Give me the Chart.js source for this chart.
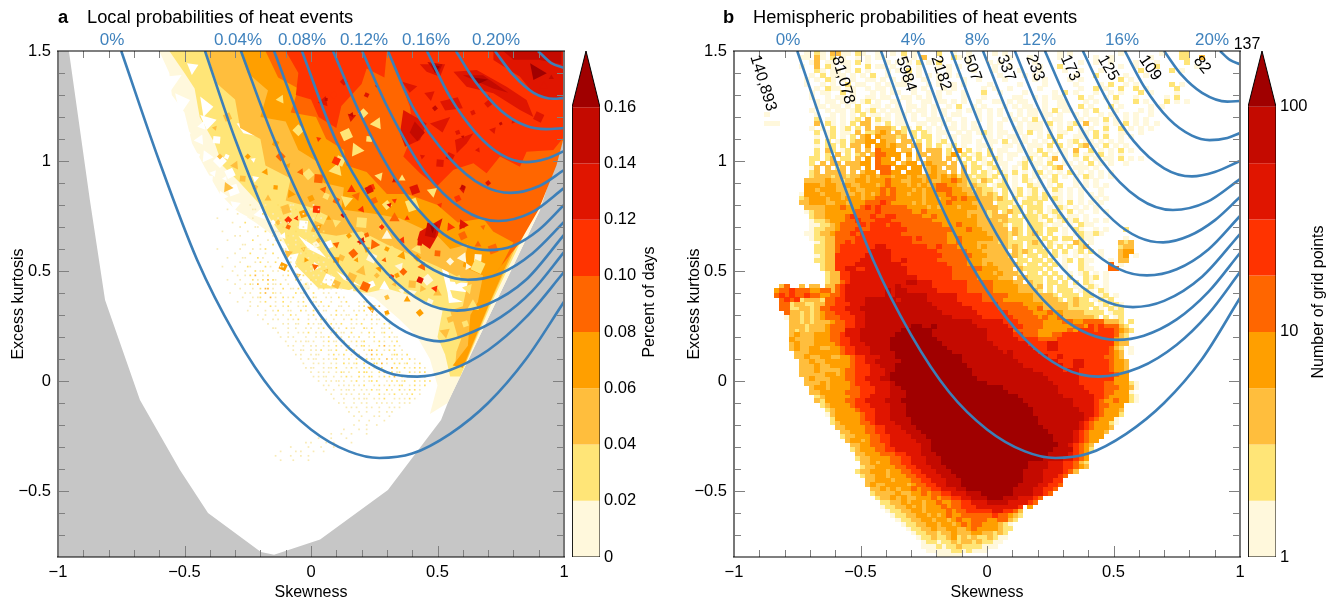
<!DOCTYPE html>
<html>
<head>
<meta charset="utf-8">
<script src="https://cdn.jsdelivr.net/npm/chart.js@4/dist/chart.umd.min.js"></script>
<style>
html, body { margin: 0; background: #fff; }
canvas { position: absolute; top: 0; }
</style>
</head>
<body>
<canvas id="panelA" width="590" height="602" style="left:0"></canvas>
<canvas id="barA" width="100" height="602" style="left:566px"></canvas>
<canvas id="panelB" width="590" height="602" style="left:676px"></canvas>
<canvas id="barB" width="84" height="602" style="left:1242px"></canvas>
<script>
// colours of the 9 classes, palest first
const levelColors = ['#fff', '#fff8dc', '#ffe577', '#ffbe3d', '#ff9f00', '#ff6600', '#ff3300', '#e01500', '#c40a00', '#a00000'];
const speckleColors = ['#f8eab4', '#ffe06a', '#ffb93a'];

// blue curves, panel a: [skewness, kurtosis]
const curvesA = [
  [[-.75,1.5],[-.6,1],[-.45,.55],[-.3,.21],[-.15,-.05],[0,-.22],[.15,-.32],[.27,-.35],[.4,-.33],[.55,-.24],[.7,-.1],[.85,.1],[1,.36]],
  [[-.419,1.5],[-.3,1.1],[-.15,.68],[0,.36],[.15,.15],[.3,.04],[.42,.02],[.55,.05],[.7,.14],[.85,.29],[1,.495]],
  [[-.277,1.5],[-.15,1.11],[0,.73],[.15,.46],[.3,.28],[.4,.21],[.51,.18],[.6,.205],[.75,.29],[.875,.41],[1,.586]],
  [[-.146,1.5],[0,1.06],[.15,.72],[.3,.49],[.45,.355],[.577,.32],[.7,.35],[.85,.46],[1,.664]],
  [[-.036,1.5],[.1,1.09],[.25,.79],[.4,.575],[.52,.485],[.62,.46],[.75,.49],[.875,.58],[1,.723]],
  [[.087,1.5],[.2,1.2],[.35,.89],[.5,.69],[.6,.62],[.7,.595],[.8,.615],[.9,.686],[1,.8]],
  [[.202,1.5],[.3,1.25],[.45,.95],[.6,.78],[.74,.727],[.87,.765],[1,.877]],
  [[.304,1.5],[.4,1.25],[.55,1.01],[.68,.888],[.79,.855],[.9,.885],[1,.959]],
  [[.458,1.5],[.55,1.29],[.65,1.13],[.75,1.03],[.85,.995],[.93,1.01],[1,1.045]],
  [[.573,1.5],[.65,1.36],[.75,1.23],[.85,1.16],[.93,1.145],[1,1.15]],
  [[.727,1.5],[.8,1.39],[.88,1.31],[.96,1.283],[1,1.287]],
  [[.897,1.5],[.95,1.445],[1,1.423]]
];
// blue curves, panel b
const curvesB = [
  [[-.75,1.5],[-.6,1],[-.45,.55],[-.3,.21],[-.15,-.05],[0,-.22],[.15,-.32],[.27,-.35],[.4,-.33],[.55,-.24],[.7,-.1],[.85,.1],[1,.377]],
  [[-.419,1.5],[-.3,1.12],[-.15,.72],[0,.41],[.15,.19],[.3,.06],[.44,.02],[.6,.06],[.75,.165],[.875,.305],[1,.495]],
  [[-.273,1.5],[-.15,1.12],[0,.747],[.15,.468],[.3,.284],[.4,.215],[.514,.187],[.62,.206],[.75,.28],[.875,.405],[1,.582]],
  [[-.142,1.5],[0,1.085],[.15,.746],[.3,.509],[.45,.372],[.577,.336],[.7,.364],[.85,.474],[1,.668]],
  [[-.016,1.5],[.1,1.17],[.25,.835],[.4,.61],[.52,.51],[.632,.48],[.75,.508],[.875,.598],[1,.75]],
  [[.11,1.5],[.2,1.25],[.35,.93],[.5,.73],[.6,.653],[.696,.63],[.8,.66],[.9,.73],[1,.836]],
  [[.229,1.5],[.33,1.24],[.45,1.006],[.6,.83],[.735,.777],[.87,.814],[1,.918]],
  [[.379,1.5],[.47,1.285],[.58,1.09],[.7,.967],[.81,.93],[.9,.95],[1,1]],
  [[.545,1.5],[.62,1.34],[.72,1.19],[.81,1.115],[.88,1.095],[.95,1.105],[1,1.127]],
  [[.7,1.5],[.77,1.39],[.85,1.31],[.95,1.27],[1,1.273]],
  [[.921,1.5],[.96,1.46],[1,1.44]]
];

// panel a: area no data reaches
const greyRegion = [[-1,1.5],[-.957,1.5],[-.874,.823],[-.814,.368],[-.676,-.086],[-.518,-.405],[-.407,-.6],[-.198,-.777],[-.146,-.79],[.036,-.72],[.304,-.495],[.514,-.177],[.545,-.086],[.735,.368],[.905,.777],[.917,.836],[1,1.11],[1,-.8],[-1,-.8]];

// panel a: filled contours per class
const contour1 = [[-.6,1.5],[-.56,1.4],[-.55,1.3],[-.5,1.22],[-.47,1.08],[-.42,.97],[-.36,.85],[-.3,.78],[-.22,.72],[-.1,.62],[0,.55],[.1,.43],[.25,.38],[.35,.28],[.42,.2],[.47,.1],[.5,-.02],[.47,-.15],[.54,-.1],[.735,.368],[.905,.777],[1,1.11],[1,1.5]];
const contour2 = [[-.56,1.5],[-.5,1.4],[-.46,1.33],[-.44,1.2],[-.38,1.08],[-.35,.98],[-.28,.9],[-.2,.8],[-.12,.67],[-.056,.52],[.03,.42],[.115,.42],[.22,.4],[.3,.42],[.42,.38],[.52,.32],[.5,.2],[.53,.12],[.55,.02],[.59,.02],[.72,.37],[.89,.78],[.99,1.11],[1,1.5]];
const contour3 = [[-.415,1.5],[-.37,1.35],[-.3,1.28],[-.28,1.15],[-.2,1.1],[-.18,.98],[-.08,.92],[-.1,.82],[.03,.78],[0,.68],[.1,.66],[.2,.68],[.3,.62],[.42,.56],[.5,.52],[.62,.45],[.6,.34],[.55,.32],[.58,.2],[.57,.07],[.61,.08],[.71,.36],[.875,.77],[.985,1.11],[1,1.5]];
const contour4 = [[-.28,1.5],[-.25,1.4],[-.17,1.32],[-.2,1.2],[-.1,1.18],[-.05,1.05],[.02,1],[.05,.9],[.13,.88],[.12,.78],[.25,.76],[.35,.74],[.5,.66],[.55,.6],[.62,.62],[.6,.52],[.68,.48],[.66,.36],[.63,.3],[.62,.16],[.56,.07],[.6,.06],[.7,.34],[.86,.76],[.975,1.11],[1,1.5]];
const contour5 = [[-.18,1.5],[-.13,1.38],[-.05,1.33],[-.08,1.22],[.02,1.2],[.06,1.1],[.13,1.05],[.14,.98],[.22,.95],[.3,.85],[.38,.85],[.5,.8],[.58,.72],[.68,.74],[.72,.68],[.8,.63],[.75,.52],[.7,.45],[.82,.62],[.9,.78],[.97,.98],[1,1.11],[1,1.5]];
const contour6 = [
  [.306,1.5],[1,1.5],[1,1.11],[.958,1.05],[.852,1.042],[.826,.974],[.747,1.02],[.694,.944],[.642,.99],[.563,.96],[.497,.884],[.431,.944],[.365,1.02],[.404,1.126],[.391,1.247],[.352,1.368],null,
  [-.1,1.5],[.3,1.5],[.29,1.38],[.22,1.42],[.2,1.35],[.16,1.3],[.12,1.25],[.1,1.15],[.03,1.2],[0,1.28],[-.06,1.3],[-.05,1.4]
];
const contour7 = [
  [.721,1.5],[1,1.5],[1,1.293],[.945,1.277],[.879,1.308],[.826,1.383],[.721,1.459],null,
  [.563,1.406],[.655,1.414],[.773,1.338],[.852,1.277],[.879,1.2],[.826,1.232],[.721,1.308],[.615,1.338],null,
  [.43,1.44],[.53,1.44],[.51,1.383],[.457,1.406],null,
  [.365,1.232],[.457,1.171],[.431,1.096],[.372,1.065],[.352,1.126],null,
  [.569,1.096],[.642,1.126],[.615,1.08],[.576,1.035],null,
  [.51,1.27],[.58,1.29],[.6,1.24],[.53,1.23],null,
  [.47,1.17],[.55,1.2],[.52,1.13],null,
  [.36,1.36],[.42,1.34],[.39,1.31],null,
  [.43,.68],[.52,.74],[.5,.66],[.47,.6],[.42,.64]
];
const contour8 = [
  [.46,1.45],[.52,1.44],[.5,1.39],null,
  [.6,1.39],[.68,1.39],[.78,1.31],[.72,1.33],null,
  [.41,1.18],[.45,1.13],[.42,1.09],[.39,1.13],null,
  [.76,1.5],[.99,1.5],[.99,1.44],[.9,1.46],[.8,1.46],null,
  [.46,.72],[.5,.71],[.49,.65],[.45,.66]
];
const contour9 = [
  [.866,1.444],[.932,1.399],[.879,1.368],null,
  [.475,1.44],[.51,1.43],[.49,1.4],null,
  [.47,.71],[.49,.7],[.48,.67],null,
  [.64,1.38],[.7,1.37],[.66,1.35]
];

// panel a: white gaps and small facets, centre of each facet
const gapPolys = [
  [-.49,1.444],[-.445,1.437],[-.471,1.391],null,
  [-.583,1.383],[-.511,1.391],[-.57,1.293],[-.61,1.323],null,
  [-.537,1.308],[-.478,1.277],[-.518,1.209],null,
  [-.438,1.293],[-.386,1.247],[-.425,1.2],null,
  [-.438,1.209],[-.373,1.187],[-.412,1.141],null,
  [-.294,1.171],[-.221,1.179],[-.208,1.111],[-.267,1.126],null,
  [.517,.512],[.543,.497],[.55,.452],[.622,.444],[.622,.402],[.55,.414],[.56,.38],[.6,.36],[.545,.355],[.54,.4],null,
  [-.05,.66],[.03,.6],[.06,.56],[-.01,.6],null,
  [.1,.5],[.2,.43],[.13,.46]
];
const gapSpots = [[-.491,1.126],[-.44,1.096],[-.373,1.096],[-.412,1.02],[-.333,1.02],[-.386,.944],[-.32,.944],[-.412,.884],[-.307,.868],[-.228,1.005],[-.38,.8],[-.3,.8],[-.27,.74],[-.2,.76],[-.15,.72],[-.11,.66],[-.03,.71],[.02,.52],[.07,.46],[.16,.41],[.24,.44],[.29,.43],[.07,.62],[-.07,.56],[-.1,1],[-.22,.92],[-.46,1.02],[-.43,1.16],[-.36,1],[-.34,.92],[-.4,.92],[-.35,.84]];
const spotsPale = [[.55,.543],[.6,.56],[.66,.56],[.62,.52],[.24,.56],[.35,.52],[.02,.62],[.3,.66],[-.02,.43],[.36,.41],[.46,.46],[.4,.4],[.47,.36],[.4,.35]];
const spotsYellow = [[.207,1.217],[.26,1.17],[.23,1.1],[.18,1.05],[.115,1],[.27,.93],[.14,1.12],[.36,.92],[.4,.8],[.48,.86],[.3,.8],[.14,.82],[.06,.84],[.1,.96],[-.05,1.14],[-.12,1.28],[.2,.72],[.28,.7],[.66,.52],[.62,.42],[.58,.46],[.64,.34],[.61,.26],[.57,.17],[-.01,.94],[.1,.72],[.04,.74],[.16,.66],[.32,.58],[.42,.6]];
const spotsL3 = [[-.36,1.02],[-.3,.98],[-.27,.92],[-.33,.88],[-.22,.88],[-.38,1.15],[-.33,1.2],[-.17,.83],[-.1,.78],[-.03,.6],[.03,.64],[-.09,.58],[.12,.56],[.2,.5],[.26,.48],[.33,.44],[.4,.44],[.44,.42],[.16,.47],[.06,.5],[.3,.38],[.5,.4],[.55,.28],[.53,.22],[-.13,.72],[-.05,.48],[.1,.44]];
const spotsL4 = [[-.25,1.02],[-.18,.95],[-.14,.88],[-.08,.85],[-.14,1.08],[-.09,.98],[0,.83],[.07,.74],[-.03,.76],[.03,.7],[.15,.66],[.22,.6],[.3,.6],[.36,.57],[.42,.56],[.18,.55],[.1,.55],[-.02,.55],[-.11,.52],[.27,.51],[.34,.48],[.38,.37],[.3,.31],[.24,.33],[.43,.31]];
const spotsL5 = [[-.12,1.02],[-.04,.95],[.03,.92],[.02,.78],[.1,.82],[.18,.84],[.25,.82],[.33,.74],[.22,.664],[.1,.62],[.167,.58],[.016,.52],[.214,.429],[.29,.55],[.365,.497],[.44,.52],[.5,.58],[.25,.62],[-.09,.7],[.05,.87],[.6,.66],[.66,.62],[.72,.6],[.68,.7],[.6,.77]];
const spotsL6 = [[-.09,.732],[-.057,.74],[.022,.78],[.2,.634],[.319,.474],[.49,.42],[.431,.459],[.16,.87],[.24,.88],[.33,.82],[.09,1.3],[.03,1.1],[.1,1],[.2,.78],[.28,.7],[.36,.64],[.43,.626],[.55,.7],[.6,.71],[.51,.8],[.58,.83],[.38,.74]];
const spotsL7 = [[.128,.755],[.2,.634],[.43,.626],[.6,.71],[.431,.459],[.31,.8],[.23,.87],[.33,.91],[.41,.87],[.6,.87],[.7,.9],[.16,1.2],[.22,1.3],[.05,1.27],[.13,1.36],[.66,1.05],[.51,.99],[.8,1.18],[.9,1.2],[.72,1.14],[.64,1.22],[.92,1.34],[.58,1.13],[.47,1.3],[.7,1.26],[.44,1.02],[.55,1.02]];
const spotsL8 = [[.128,.755],[.16,1.21],[.06,1.28],[.33,.915],[.6,.88],[.26,1.34],[.75,1.17],[.95,1.38],[.7,1.29],[.6,1.11],[.49,1.24]];

// panel a: fine speckle, one row per 0.02 of kurtosis from 0.8 down, one digit per 0.01 of skewness from -0.42
const speckleRows = [
  '..................1.....1....2....11.......1.',
  '.........1.........11.........2...1.2.....1..1',
  '.............1.........2...1......1....1.2',
  '.....1.............1.........12......2.....1..1',
  '...........1....2.........1...1..1......1..2.',
  '..............1.....11.........2.....1.1.....1',
  '.......1.........1......2...11......2...1...1..2',
  '............1.1......1.....1.....2.1.......1.2',
  '.........1.........2.....1..1.2.....1...1.....1.2',
  '...............11.....1....2.....1..1.2.....1',
  '.....1........1....1..1.2......11......2.1...1..1',
  '............1.....2.....1..2...1......1.2..1.....1',
  '.........1.....11....2.1.....1..2.1......1...2...1',
  '..............1.....1.2..1..2.....1.1..2.....1.1',
  '.......1....1....21.....2.1...11....2.....1..2..1',
  '...........1....1...2.12...1.1...2.1....1.1...1.2',
  '.............1..1.2.3..1.2.....1.2...1.2...1.1....1',
  '.........1....1....2.1.2.3.21...1...2.1...2.1...1.1',
  '............1...1.21.3...2.11.2..1......2.1...1.2..1',
  '..............1....1..2.33.1...2..11.2...1...1.2..1...1',
  '..........1.....1.1...2.3..21.1.....2.11...2...1.1..1',
  '...............1...1.12...3.1..2.1.2...1...21...1.1..2.1',
  '.............1....1...1.2...1..2..1..1.2...11.2...1...1.2....1.12',
  '..................1..1....2.1..1.2...1.12....1.1.2...11..1...1.2.1.1.3',
  '.................1......1..1.2...11...2.1..2.1.11...2..1...1.1.2..1.2',
  '.....................1..1...1..1..2.1....1.2..1...1.2.1.11..2...1.1.1.1.2',
  '.......................1...1.1...1.1.2...1..1.2.1..1...1..2.1..1..2.11..2',
  '.........................1.....1.1..11...2.1.11...2.1.2...1.1.2...1.1..2.1',
  '...........................11....1..1...1.1..1.2...1.1..2.11...21.2...11.2',
  '.............................1...1...1.1.2..1.1...1.2.11..2...1..2.1..12..1.',
  '..............................1..1.1....1...1.11.2..1.1..2.1.2...1.2...1.2.11',
  '................................1...1.1.11.1...1.2.11..2..1.2.12...1.2.1..1.2',
  '.................................1.1...1..1.1..1.1..2.1.12..1.22.1...2.3.1.2.1',
  '...................................1..11..1.1.2..11.2...2.12...1.23.2..1.2.2..1',
  '....................................1.1...1.11...1.2.1.2..1.22..1.3.2.2...122.1.2',
  '......................................1..1.11..1.1.12..1.2..2.1.2.21.2..3.2.1.2..2.1',
  '.......................................1...1.1.1..1.1..2.1.12..2.1.22.3.1..2.2.12..1.2',
  '........................................1.11...1.11.2...1.2.1..2.2.12.2...3.2..2.1.2.2.1',
  '..........................................1..1.1.1..1.21.1...2.22.1..2.32.2.12...2.1.2.2',
  '...........................................1.1.11..1..1.2.1..2.1.22..1.2.2.3..2.1.22.1.2',
  '.............................................1..1.1.11.1..1.2..1.12.2...1.2.2.12...2.1.2.2',
  '...............................................1.1...1.1.1.1.1.2...1.2.1.2.1.22..1.2.1.2',
  '................................................1..1..1.11.1..1.1.2.11..2.1..2.1.2.2.1.',
  '..................................................1...1.1.1..1.1.1...2.1.1.2..1.1.2..1.',
  '...................................................1...1...1.1.11..1.1.2...1.1.1.2.1',
  '.....................................................1.1...1..1.1...1.1.1.1..1.1.1',
  '........................................................1.1.1...1.1..1...1.1.1.',
  '.........................................................1...1..1....1..1.1..',
  '...........................................................1..1....1.1...1.',
  '.............................................................1...1.....1.',
  '...........................................................1....1...1...',
  '.......................................................1.....1..1...',
  '..................................................1...1...1.....1.',
  '.............................................1....1.....1....',
  '........................................1.1.....1..1......1',
  '..................................1......1....1....1.1.',
  '..............................1.....1.1....1...1.',
  '............................1.....1...1..1..',
  '..............................1....1.....1.'
];

// panel b: one string per row of grid cells, 1.49 at the top in steps of 0.02,
// each digit a cell from skewness -0.99 in steps of 0.02, '.' means empty, spaces only for counting
const heatRows = [
  '.......... ....1.21.3 311.21..1. .1.2.1.... 2..1..1... .1.1...... ....1.1... ......1... ....1...22 .........',
  '.......... ...11.31.2 .1..1.1.11 ...1.1.3.. ...21.1... ....1...1. ....1..... .1..1..... ..1.....22 ..3.......',
  '.......... .....13.11 .11.2.1... 1.1.1.2.1. 2.....1... 1.1......1 ........1. .1..1....1 ...1.....2 .....',
  '.......... ...1..3.21 ..1...2.11 .1....1... 1.1.1..... .1..1..... 1...2..... ......1..1 ...2...... .1.',
  '.......... ......21.1 1.1.2.1... 1.1.2.1... ..1....1.. .1....1... 1....1..1. ..1....... 2.....2.1.',
  '.......... .....1.2.1 11.1.1.2.. 1...1.1.1. 1.1.1..... ..1....1.1 .......1.. .2.....1.. .1........',
  '.......... ....1.1.21 .1.1..11.1 .1.11..1.. 1....1..1. ...1.....1 .1....1.1. ......2.1. ..........',
  '.......... ....1..1.1 ..2.11..1. 1.11....1. 1..1.1.... 1.....1... .1.....1.. ..1.2..1.1 ......2.1.',
  '.......... ......1.21 1.11..1.11 .1...1.1.. .1.1.....1 .1..1..... 1.......1. .2.1..2..2 .1.....2..',
  '.......... .....1.11. .2.1...1.1 .11..1..1. 1.1..1...2 ..1....1.. ...1.2.1.. .1..1.1... 2.1....1..',
  '.......... .....1..1. 11.1..11.1 1..11.1.1. 1....1...1 .....11..1 .1.11...2. 1..1.2...1 .....1.2..',
  '.......... ......1.11 .1.1.12.1. .11.1..11. 11.1.1..1. .11.1.11.. .1..11...1 .1...1...2 .1...2.1.1',
  '.......... ......11.1 1.1.2..11. 1.1.11.1.1 ..1.2..1.1 ...1.1.11. .1..11..2. 1...2.1... ..1.1.....',
  '.......... .....1..1. 11.12.12.1 .11.1.11.1 .1..1.1.1. 1.1...1.11 .1.2.11..1 .2...1.... 1.1.......',
  '......1... ......1..1 .1.1.2.11. 1.11.1.1.1 .1.11...1. 1.1.1.1.11 .11.1..1.1 ..1.1..1.1 ..1.......',
  '.......... ......2.11 .1.12.3.21 1.11.1..11 1.1..1..1. 1..1.1.1.2 .1.11...1. 11.2.1.1.1 .1........',
  '......111. ......3.21 .1.2.33.1. 2.11..11.1 .1.1.1.1.. 1.1...1.11 1.2.1.12.3 .1.1.1.2.1 .1.1......',
  '.......... .....1.1.2 .12.2.3.33 32.21.2.1. 1.11.1.11. 1.1..11.11 1.1.1.2.1. 1..2..2.1. 1.1.......',
  '.......... ......2.12 .11.3.2234 3.32.2.21. 11..1.1.12 1.11..1.2. 1.1.11..11 .2.1..11.. 1.........',
  '.......... ......1.12 .1.2.34.43 3323.2.22. 1.11.11..1 1.1.11.1.. 1.2.2..111 .2.2..1.1. ..........',
  '.......... ......2.2. 12.23344.4 33.33.2.2. 12.1.11.1. 11.2.1.1.1 .1.2..12.1 1.1.1.1... ..........',
  '.......... ......1.22 .2.33.4.44 3433.33.2. 2.12.1..11 1..11.1.11 1.2.2.1.23 .1.2.1.1.. ..........',
  '.......... ......2.32 .12.3.3.54 44.33.3.33 3.2.4.2.1. 2.11..1.1. 2.1.11.3.. 2.1.1.2.1. ..........',
  '.......... ......2.2. 3.2.23.355 444.4.33.3 3.24.2.12. 2.1.11..11 .2.1.1.2.1 1.2.1.1... ..........',
  '.......... .....22.23 .22.3.4.54 4.4.3.3.33 3.3.2.2.21 .21.1..12. 1.13.1.1.2 .1.11.2.1. 1.........',
  '.......... .....2.3.3 3.33344.54 44.344.343 33.3.2.2.1 2.11..12.1 1.2..11.1. 2.1.1..1.. ..........',
  '.......... .....13.3. 23.33.4.55 5.44.44.34 3.33.3.22. 12.1.1.2.1 .1.23..111 .1........ ..........',
  '.......... .....23.33 33.3.344.5 544.444.34 33.3.3.2.2 1.21.2.1.1 2.1.1.2.1. 1.1.1..... ..........',
  '.......... .....23332 3323343434 4344343344 3434232122 12.2.1.2.1 .1.2.1.1.2 1.1.1.....',
  '.......... ....333343 3233443444 5443344343 3445432213 2.12.1.21. 1.12...1.1 .1.......',
  '.......... ....444344 3343344434 5444343434 5544332322 .122.1..21 1.1.2..1.1 .1.1......',
  '.......... ....443444 3334334445 4544434344 5554433232 21.2.12.12 .1.21.1.1. ..1.......',
  '.......... ...1444344 4333434345 4544344344 4454443332 32.2.12.12 .2.11.1.1. 1.1.......',
  '.......... ...2344434 4344434455 5544444344 3445454433 3232.2.122 12.21.1.1. .1.1......',
  '.......... ...3344433 4434445556 5444434344 4454444333 3.2221.221 2..11.2.1. 1.1.......',
  '.......... ....333344 4544456565 5555444434 3444344433 3322.22.22 2.1.21.1.1 .1........',
  '.......... ....123344 4444555565 5555544544 4444443333 23.2322.21 2.121.2.1. .1.1......',
  '.......... .....23344 4456555655 6655555445 4444443433 2333.2.222 12.12.11.1 ..........',
  '.......... .....12234 4455655566 6555555554 4444444433 3323222.22 1.2.1212.1 .1.1......',
  '.......... .....11223 4555565666 5665555555 5444544433 3332.22.22 21.11.1.21 1.........',
  '.......... .....12233 4555655666 6666555555 5554445443 3333.32.22 2.22.1.21. .1.1...2..',
  '.......... ....112334 5556566666 6665555555 5544444444 3333232.23 2.2..1.121 121.......',
  '.......... .....12233 5555666666 6666656555 5544544444 43332.2222 .2.2.22.21 1......1..',
  '.......... ......1233 5565666666 6666655555 5544544433 3323222.23 2.21.1.32. 1.....323.',
  '.......... ......2233 5666666677 6666666655 6555444434 3333232.22 2.2.2.2.23 ......233.',
  '.......... ......2233 5666666777 7666666666 5555554443 3333.3232. 22.2.2.12. 2.1...344.',
  '.......... ......1233 6666667777 7666666666 6555555444 3333232.22 .2.2.1.1.1 ..1...34.1',
  '.......... ......2233 6666677777 7667666666 5555554443 33333.22.2 2.2..12.21 1...1.33..',
  '.......... .......233 6666777777 7776666666 6655554443 4333332.22 .2.2.1..21 ....5.1...',
  '.......... .......233 6677667777 7777666666 6665555554 44333.3222 2.2..1..21 1...55....',
  '.......... ........23 3667777777 7777666666 6665555544 4343332.22 .2.2..1.12 .1.1......',
  '.......... ........23 3667777777 7777776666 6665555544 44333.3322 2.2.2.2..2 12.1......',
  '.......... ........23 3567777777 7777887776 6666665555 5444433.32 2.22.2.2.2 1..1......',
  '.........3 5..3.33.33 5677777777 7787777776 6666665555 5444443332 3.2.22.1.1 21.1......',
  '........45 5655544553 5677777777 8788777777 6666665555 5444443333 2.2.222.12 1.21......',
  '........56 5655655445 5677777777 8788888877 7777666665 5555444443 3332.222.2 2.12.1....',
  '.........5 6562333255 6677778888 8878888877 7777666665 5554444443 33332.2322 .1212.....',
  '.........5 5233223355 6667778888 8888888887 7777766666 6655555444 4333332322 2.12.21...',
  '.........5 5223323556 6677788888 8888888888 7777777666 6655555544 5333332222 .21.212...',
  '.......... 5332323455 6667778888 8888888888 8777777766 6666555554 4454433332 222.122...',
  '.......... 1332323455 5666778888 8888888888 8887777776 6666655555 4544533333 32.2.12...',
  '.......... .332323334 5566778888 8888888888 8888888777 7776665555 5444455445 5553332.2.',
  '.......... .333233345 5566778888 8888899889 8888888877 7777666555 5444444554 65655532..',
  '.......... .323233345 5577788888 8889999998 8888888888 7777755555 4444445466 656665432.',
  '.......... .343334445 5677788888 8899999998 8888888888 7777766555 4445566666 66666532.',
  '.......... .433334445 5667788888 8999999999 8888888888 7777776666 5555666666 66666432..',
  '.......... .343334444 5667778888 8999999999 9888888888 8777777766 6677666666 66666433.',
  '.......... .343344334 4566777888 8999999999 9988888888 8877777776 6677666666 6666532.1',
  '.......... ..33344444 4566777888 8899999999 9998888888 8887877777 6666666666 6666543.1',
  '.......... ..33433443 3445667778 8899999999 9999988888 8888877777 7766766666 6665543.',
  '.......... ...3343344 4445667788 8889999999 9999988888 8888887777 7777666776 66665443.',
  '.......... ...3334334 4445666778 8899999999 9999998888 8888888777 7777766776 66665443.',
  '.......... ...3334333 3455666777 8899999999 9999999888 8888888887 7777767766 66665443',
  '.......... ...3333344 3455666777 8999999999 9999999888 8888888888 8777777766 66666544.',
  '.......... ....343334 4455667778 8999999999 9999999988 8888888888 8877777766 66666444.',
  '.......... ....333434 4445666777 7899999999 9999999999 8888888888 8887777766 66655444 21',
  '.......... .....34434 4445566677 7889999999 9999999999 9998888888 8888777776 66655544 31',
  '.......... .....33444 4455566677 7888999999 9999999999 9999888888 8888777777 66655444 1',
  '.......... ......2344 4445566777 7888999999 9999999999 9999998888 8888877777 76654444 21',
  '.......... ......3244 4455667777 8889999999 9999999999 9999999888 8888888777 76544544 21',
  '.......... .......234 4445666777 7888999999 9999999999 9999999988 8888888777 7655444',
  '.......... ........23 4444566677 7888999999 9999999999 9999999998 8888888877 7654443',
  '.......... ........13 4444456677 7888999999 9999999999 9999999998 8888888887 7654442',
  '.......... .........2 4444456677 7888899999 9999999999 9999999999 8888888887 654441',
  '.......... .........2 3444455677 7788899999 9999999999 9999999999 8888888876 544421',
  '.......... .......... 3344445566 7778889999 9999999999 9999999999 9888888876 54443',
  '.......... .......... .334445566 7777888999 9999999999 9999999999 9988888765 4443',
  '.......... .......... .233444556 6777788899 9999999999 9999999999 9998888765 444',
  '.......... .......... ..34434556 6777778889 9999999999 9999999999 9998888765 44',
  '.......... .......... ...3344555 6777777889 9999999999 9999999999 9999887654 3',
  '.......... .......... ...2344455 6677777889 9999999999 9999999999 9998888654 2',
  '.......... .......... ....334445 5566777888 9999999999 9999999999 9988887654',
  '.......... .......... ....233444 4556677788 8999999999 9999999999 9888877654',
  '.......... .......... .....33434 4556677788 8999999999 9999999988 8877766532',
  '.......... .......... .....23344 4455667778 8899999999 9999999988 8877766543',
  '.......... .......... ....233444 3445566777 8889999999 9999999888 87777653',
  '.......... .......... .....23344 3444556677 7888999999 9999999888 877765',
  '.......... .......... ......3344 4344455667 7788899999 9999999888 87766',
  '.......... .......... ......3433 4444345566 7788899999 9999998888 77665',
  '.......... .......... .......334 3434454556 6777889999 9999988887 7665',
  '.......... .......... .......233 3343344545 5667778889 9999988887 765',
  '.......... .......... ........23 3434334445 4556677888 9998887776 5',
  '.......... .......... .........2 2334344344 5445566777 8888777765',
  '.......... .......... .........1 2233434344 4545566677 7777776.4.',
  '.......... .......... .......... 1223344344 4454556666 6776653',
  '.......... .......... .......... .122334434 3454455555 5655432',
  '.......... .......... .......... ..12233443 4434544555 445532',
  '.......... .......... .......... ...1223344 3443454554 44321',
  '.......... .......... .......... ....122334 3344334544 44322',
  '.......... .......... .......... .....12233 2334333443 3232',
  '.......... .......... .......... ......1223 2234232322 3211',
  '.......... .......... .......... .......122 1223233232 211',
  '.......... .......... .......... .......111 2122322221 11',
  '.......... .......... .......... ........11 1112212111',
  '.......... .......... .......... .......... 11111'
];

// colour bars
const barEdgesA = [0, .02, .04, .06, .08, .1, .12, .14, .16];
const barTipA = .18;
const barTicksA = [0, .02, .04, .06, .08, .1, .12, .14, .16];
const barEdgesB = [1, 1.78, 3.16, 5.62, 10, 17.8, 31.6, 56.2, 100];
const barTipB = 177;
const barTicksB = [1, 10, 100];

// text along the top of the panels
const titlesA = ['a', 'Local probabilities of heat events'];
const titlesB = ['b', 'Hemispheric probabilities of heat events'];
const percentLabelsA = ['0%', '0.04%', '0.08%', '0.12%', '0.16%', '0.20%'];
const percentLabelsB = ['0%', '4%', '8%', '12%', '16%', '20%'];
const countLabels = ['140,893', '81,078', '5984', '2182', '507', '337', '233', '173', '125', '109', '82'];
const topCount = '137';

const xMajor = [-1, -.5, 0, .5, 1];
const yMajor = [-.5, 0, .5, 1, 1.5];
const xMinor = [-.9, -.8, -.7, -.6, -.4, -.3, -.2, -.1, .1, .2, .3, .4, .6, .7, .8, .9];
const yMinor = [-.7, -.6, -.4, -.3, -.2, -.1, .1, .2, .3, .4, .6, .7, .8, .9, 1.1, 1.2, 1.3, 1.4];

// placement of that text, in canvas pixels
const percentXA = [112, 238, 302, 364, 426, 496];
const percentXB = [112, 237, 301, 363, 446, 536];
const countPos = [[87, 83, 73], [167, 80, 74], [230, 74, 72], [265, 73, 72], [296, 68, 70], [330, 68, 70], [359, 68, 68], [394, 68, 66], [432, 68, 60], [474, 68, 55], [526, 65, 50]];

const FONT = '"Liberation Sans", Arial, sans-serif';
const BLUE = '#3c7fb8';
const TICK_SIZE = 16.5;
Chart.defaults.font.family = FONT;
Chart.defaults.font.size = TICK_SIZE;
Chart.defaults.color = '#000';
Chart.defaults.animation = false;

const fmt = v => String(v).replace('-', '\u2212');
const toPoints = list => list.map(p => p ? { x: p[0], y: p[1] } : { x: NaN, y: NaN });

function polyDataset(list, color) {
    return { data: toPoints(list), showLine: true, fill: 'shape', backgroundColor: color, borderWidth: 0, pointRadius: 0 };
}
function spotDataset(list, color, sizes) {
    return {
        data: toPoints(list), showLine: false, backgroundColor: color, borderWidth: 0,
        pointStyle: c => c.dataIndex % 2 ? 'triangle' : 'rectRot',
        pointRadius: c => sizes[c.dataIndex % sizes.length],
        pointRotation: c => [0, 25, 50, 95, 70, 160, 20][c.dataIndex % 7]
    };
}
function curveDatasets(curves) {
    return curves.map(c => ({
        data: toPoints(c), showLine: true, borderColor: BLUE, borderWidth: 2.6, pointRadius: 0,
        cubicInterpolationMode: 'monotone', fill: false
    }));
}
// later datasets paint on top
function stacked(list) {
    list.forEach((d, i) => { d.order = list.length - i; });
    return list;
}

function speckleDatasets() {
    const byLevel = [[], [], []];
    speckleRows.forEach((row, r) => {
        [...row].forEach((ch, c) => {
            if (ch !== '.') byLevel[+ch - 1].push([-.42 + .01 * c, .8 - .02 * r]);
        });
    });
    return byLevel.map((pts, i) => ({
        data: toPoints(pts), showLine: false, pointStyle: 'rect', backgroundColor: speckleColors[i],
        borderWidth: 0, pointRadius: 1.2
    }));
}

function cellStamp(color) {
    const c = document.createElement('canvas');
    c.width = 6; c.height = 5;
    const g = c.getContext('2d');
    g.fillStyle = color;
    g.fillRect(0, 0, 6, 5);
    return c;
}
function heatDatasets() {
    const cells = {};
    heatRows.forEach((row, r) => {
        [...row.replace(/ /g, '')].forEach((ch, c) => {
            if (ch === '.') return;
            (cells[ch] = cells[ch] || []).push([-.99 + .02 * c, 1.49 - .02 * r]);
        });
    });
    return Object.keys(cells).sort().map(l => ({
        data: toPoints(cells[l]), showLine: false, pointStyle: cellStamp(levelColors[+l]), pointRadius: 3, borderWidth: 0
    }));
}

// frame with inward ticks on all four sides, plus the free text of a panel
const panelDecor = {
    id: 'panelDecor',
    afterDraw(chart, args, opts) {
        const { ctx, chartArea: a, scales } = chart;
        ctx.save();
        ctx.strokeStyle = '#808080';
        ctx.lineWidth = 1;
        const marksX = (list, len) => {
            list.forEach(v => {
                const px = Math.round(scales.x.getPixelForValue(v)) + .5;
                if (v > -1 && v < 1) {
                    ctx.beginPath();
                    ctx.moveTo(px, a.bottom); ctx.lineTo(px, a.bottom - len);
                    ctx.moveTo(px, a.top); ctx.lineTo(px, a.top + len);
                    ctx.stroke();
                }
            });
        };
        const marksY = (list, len) => {
            list.forEach(v => {
                const py = Math.round(scales.y.getPixelForValue(v)) + .5;
                if (v < 1.5) {
                    ctx.beginPath();
                    ctx.moveTo(a.left, py); ctx.lineTo(a.left + len, py);
                    ctx.moveTo(a.right, py); ctx.lineTo(a.right - len, py);
                    ctx.stroke();
                }
            });
        };
        marksX(xMinor, 7); marksX(xMajor, 11);
        marksY(yMinor, 7); marksY(yMajor, 11);

        ctx.strokeStyle = '#777';
        ctx.lineWidth = 2;
        ctx.beginPath();
        ctx.moveTo(a.left, a.top); ctx.lineTo(a.left, a.bottom);
        ctx.moveTo(a.right, a.top); ctx.lineTo(a.right, a.bottom);
        ctx.stroke();
        ctx.strokeStyle = '#000';
        ctx.lineWidth = 1.2;
        ctx.beginPath();
        ctx.moveTo(a.left - 1, a.top); ctx.lineTo(a.right + 1, a.top);
        ctx.moveTo(a.left - 1, a.bottom); ctx.lineTo(a.right + 1, a.bottom);
        ctx.stroke();

        ctx.fillStyle = '#000';
        ctx.textBaseline = 'alphabetic';
        ctx.textAlign = 'left';
        ctx.font = 'bold 18.3px ' + FONT;
        ctx.fillText(opts.titles[0], opts.titleX[0], 23);
        ctx.font = '18.3px ' + FONT;
        ctx.fillText(opts.titles[1], opts.titleX[1], 23);

        ctx.fillStyle = '#3f82bd';
        ctx.font = '17px ' + FONT;
        ctx.textAlign = 'center';
        opts.percent.forEach((t, i) => ctx.fillText(t, opts.percentX[i], 45));

        ctx.fillStyle = '#000';
        ctx.font = '16px ' + FONT;
        ctx.textBaseline = 'middle';
        (opts.counts || []).forEach((t, i) => {
            const [x, y, deg] = countPos[i];
            ctx.save();
            ctx.translate(x, y);
            ctx.rotate(deg * Math.PI / 180);
            ctx.fillText(t, 0, 0);
            ctx.restore();
        });
        if (opts.top) ctx.fillText(opts.top, 571, 45);
        ctx.restore();
    }
};

function panel(id, datasets, decor) {
    return new Chart(document.getElementById(id), {
        type: 'scatter',
        data: { datasets: stacked(datasets) },
        plugins: [panelDecor],
        options: {
            responsive: false,
            events: [],
            layout: { padding: { top: 51, bottom: 0, left: 0, right: decor.right } },
            plugins: { legend: { display: false }, tooltip: { enabled: false }, panelDecor: decor },
            scales: {
                x: {
                    type: 'linear', min: -1, max: 1,
                    grid: { display: false, drawTicks: false }, border: { display: false },
                    afterBuildTicks: s => { s.ticks = xMajor.map(v => ({ value: v })); },
                    afterFit: s => { s.height = 45; },
                    ticks: { callback: fmt, padding: 6, maxRotation: 0, autoSkip: false },
                    title: { display: true, text: 'Skewness', font: { size: 16 }, padding: { top: 0, bottom: 0 } }
                },
                y: {
                    type: 'linear', min: -.8, max: 1.5,
                    grid: { display: false, drawTicks: false }, border: { display: false },
                    afterBuildTicks: s => { s.ticks = yMajor.map(v => ({ value: v })); },
                    afterFit: s => { s.width = 58; },
                    ticks: { callback: fmt, padding: 7, autoSkip: false },
                    title: { display: true, text: 'Excess kurtosis', font: { size: 16 }, padding: { top: 9, bottom: 0 } }
                }
            }
        }
    });
}

const datasetsA = [
    polyDataset(greyRegion, '#c6c6c6'),
    polyDataset(contour1, levelColors[1]),
    polyDataset(contour2, levelColors[2]),
    polyDataset(gapPolys, '#fff'),
    spotDataset(gapSpots, '#fff', [4, 6, 5, 7, 3]),
    polyDataset(contour3, levelColors[3]),
    polyDataset(contour4, levelColors[4]),
    polyDataset(contour5, levelColors[5]),
    polyDataset(contour6, levelColors[6]),
    spotDataset(spotsPale, levelColors[1], [4, 6, 5]),
    spotDataset(spotsYellow, levelColors[2], [5, 7, 4, 8, 6]),
    spotDataset(spotsL3, levelColors[3], [3, 5, 4, 6, 3]),
    spotDataset(spotsL4, levelColors[4], [3, 4, 3, 5, 4]),
    spotDataset(spotsL5, levelColors[5], [5, 4, 6, 3, 4]),
    spotDataset(spotsL6, levelColors[6], [4, 3, 5, 4, 3]),
    polyDataset(contour7, levelColors[7]),
    spotDataset(spotsL7, levelColors[7], [3, 5, 3, 6, 4]),
    polyDataset(contour8, levelColors[8]),
    spotDataset(spotsL8, levelColors[8], [2, 3, 2]),
    polyDataset(contour9, levelColors[9]),
    ...speckleDatasets(),
    ...curveDatasets(curvesA)
];
const datasetsB = [...heatDatasets(), ...curveDatasets(curvesB)];

panel('panelA', datasetsA, { right: 26, titles: titlesA, titleX: [58, 87], percent: percentLabelsA, percentX: percentXA });
panel('panelB', datasetsB, {
    right: 26, titles: titlesB, titleX: [47, 77], percent: percentLabelsB, percentX: percentXB,
    counts: countLabels, top: topCount
});

// colour bar: one rectangle per class and a triangle on top
const barDecor = {
    id: 'barDecor',
    afterDraw(chart, args, opts) {
        const { ctx, chartArea: a } = chart;
        ctx.save();
        ctx.translate(opts.labelX, (a.top + a.bottom) / 2 - 2);
        ctx.rotate(-Math.PI / 2);
        ctx.font = '16px ' + FONT;
        ctx.fillStyle = '#000';
        ctx.textAlign = 'center';
        ctx.textBaseline = 'middle';
        ctx.fillText(opts.label, 0, 0);
        ctx.restore();
    }
};
function colourBar(id, edges, tip, ticks, yType, label, labelX, canvasW, tickFmt) {
    const sets = [];
    for (let i = 0; i < edges.length - 1; i++) {
        sets.push(polyDataset([[0, edges[i]], [1, edges[i]], [1, edges[i + 1]], [0, edges[i + 1]]], levelColors[i + 1]));
    }
    const top = edges[edges.length - 1];
    sets.push(polyDataset([[0, top], [.5, tip], [1, top]], levelColors[9]));
    sets.push({
        data: toPoints([[0, edges[0]], [1, edges[0]], [1, top], [.5, tip], [0, top], [0, edges[0]]]),
        showLine: true, fill: false, borderColor: '#000', borderWidth: 1, pointRadius: 0
    });
    new Chart(document.getElementById(id), {
        type: 'scatter',
        data: { datasets: stacked(sets) },
        plugins: [barDecor],
        options: {
            responsive: false,
            events: [],
            layout: { padding: { top: 51, bottom: 45, left: 6, right: 0 } },
            plugins: { legend: { display: false }, tooltip: { enabled: false }, barDecor: { label, labelX } },
            scales: {
                x: { type: 'linear', min: 0, max: 1, display: false },
                y: {
                    type: yType, position: 'right', min: edges[0], max: tip,
                    grid: { display: false, drawTicks: false }, border: { display: false },
                    afterBuildTicks: s => { s.ticks = ticks.map(v => ({ value: v })); },
                    afterFit: s => { s.width = canvasW - 34; },
                    ticks: { callback: tickFmt, padding: 4, autoSkip: false }
                }
            }
        }
    });
}
colourBar('barA', barEdgesA, barTipA, barTicksA, 'linear', 'Percent of days', 84, 100, v => v === 0 ? '0' : v.toFixed(2));
colourBar('barB', barEdgesB, barTipB, barTicksB, 'logarithmic', 'Number of grid points', 77, 84, v => String(v));
</script>
</body>
</html>
